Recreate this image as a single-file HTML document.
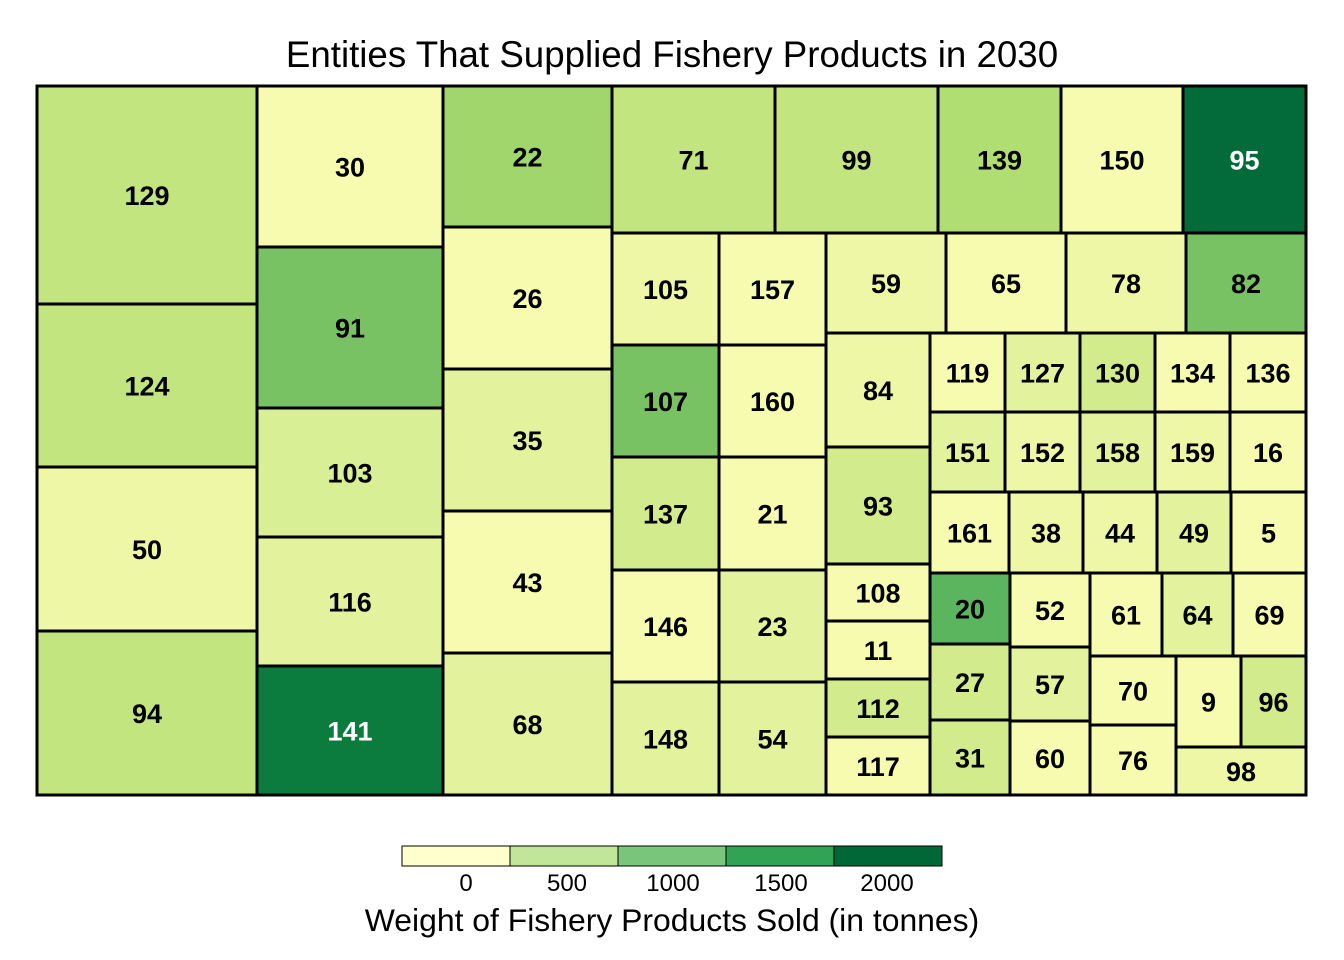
<!DOCTYPE html>
<html><head><style>body{margin:0;background:#fff}svg{display:block}</style></head><body>
<svg width="1344" height="960" xmlns="http://www.w3.org/2000/svg" font-family="Liberation Sans, sans-serif">
<text x="672" y="67" text-anchor="middle" font-size="36.7">Entities That Supplied Fishery Products in 2030</text>
<g id="cells" stroke="#000" stroke-width="3"></g>
<g id="labels" font-weight="bold" font-size="27" text-anchor="middle"></g>
<rect x="37" y="86" width="1269" height="709" fill="none" stroke="#000" stroke-width="3"/>
<g stroke="#000" stroke-width="1">
<rect x="402" y="846" width="108" height="20" fill="#ffffcc"/>
<rect x="510" y="846" width="108" height="20" fill="#c2e699"/>
<rect x="618" y="846" width="108" height="20" fill="#78c679"/>
<rect x="726" y="846" width="108" height="20" fill="#31a354"/>
<rect x="834" y="846" width="108" height="20" fill="#006837"/>
</g>
<g font-size="24" text-anchor="middle">
<text x="466" y="891">0</text><text x="567" y="891">500</text><text x="673" y="891">1000</text><text x="781" y="891">1500</text><text x="887" y="891">2000</text>
</g>
<text x="672" y="931" text-anchor="middle" font-size="31.9">Weight of Fishery Products Sold (in tonnes)</text>
<script>
const Y="#f7fbb0",Y2="#eef7a6",L="#e3f29d",M="#d2eb8c",G="#c3e57f";
const d=[
[37,86,257,304,"129",G],[37,304,257,467,"124",G],[37,467,257,631,"50",Y2],[37,631,257,795,"94",G],
[257,86,443,247,"30",Y],[257,247,443,408,"91","#78c264"],[257,408,443,537,"103","#d9ef95"],[257,537,443,666,"116",L],[257,666,443,795,"141","#0b7b3e",1],
[443,86,612,227,"22","#a0d66b"],[443,227,612,369,"26",Y],[443,369,612,511,"35",L],[443,511,612,653,"43",Y],[443,653,612,795,"68",L],
[612,86,775,233,"71",G],[775,86,938,233,"99",G],[938,86,1061,233,"139","#b1de72"],[1061,86,1183,233,"150",Y],[1183,86,1306,233,"95","#026b39",1],
[612,233,719,345,"105",Y2],[719,233,826,345,"157",Y],[612,345,719,457,"107","#78c264"],[719,345,826,457,"160",Y],
[612,457,719,570,"137",M],[719,457,826,570,"21",Y],[612,570,719,682,"146",Y],[719,570,826,682,"23",L],[612,682,719,795,"148",L],[719,682,826,795,"54",L],
[826,233,946,333,"59",Y2],[946,233,1066,333,"65",Y],[1066,233,1186,333,"78",Y2],[1186,233,1306,333,"82","#78c264"],
[826,333,930,447,"84",Y2],[826,447,930,564,"93",M],[826,564,930,621,"108",Y],[826,621,930,679,"11",Y],[826,679,930,737,"112",M],[826,737,930,795,"117",Y],
[930,333,1005,412,"119",Y],[1005,333,1080,412,"127",L],[1080,333,1155,412,"130",M],[1155,333,1230,412,"134",Y],[1230,333,1306,412,"136",Y],
[930,412,1005,492,"151",L],[1005,412,1080,492,"152",Y2],[1080,412,1155,492,"158",L],[1155,412,1230,492,"159",Y2],[1230,412,1306,492,"16",Y],
[930,492,1009,573,"161",Y],[1009,492,1083,573,"38",Y2],[1083,492,1157,573,"44",Y2],[1157,492,1231,573,"49",L],[1231,492,1306,573,"5",Y],
[930,573,1010,644,"20","#5ab55e"],[930,644,1010,720,"27",M],[930,720,1010,795,"31",M],
[1010,573,1090,647,"52",Y],[1010,647,1090,721,"57",L],[1010,721,1090,795,"60",Y],
[1090,573,1162,656,"61",Y],[1162,573,1233,656,"64",L],[1233,573,1306,656,"69",Y],
[1090,656,1176,725,"70",Y],[1090,725,1176,795,"76",Y],[1176,656,1241,747,"9",Y],[1241,656,1306,747,"96",M],[1176,747,1306,795,"98",Y2]];
const ns="http://www.w3.org/2000/svg",c=document.getElementById("cells"),l=document.getElementById("labels");
for(const [x0,y0,x1,y1,t,f,w] of d){
 const r=document.createElementNS(ns,"rect");r.setAttribute("x",x0);r.setAttribute("y",y0);r.setAttribute("width",x1-x0);r.setAttribute("height",y1-y0);r.setAttribute("fill",f);c.appendChild(r);
 const tx=document.createElementNS(ns,"text");tx.setAttribute("x",(x0+x1)/2);tx.setAttribute("y",(y0+y1)/2+10);if(w)tx.setAttribute("fill","#fff");tx.textContent=t;l.appendChild(tx);
}
</script>
</svg>
</body></html>
